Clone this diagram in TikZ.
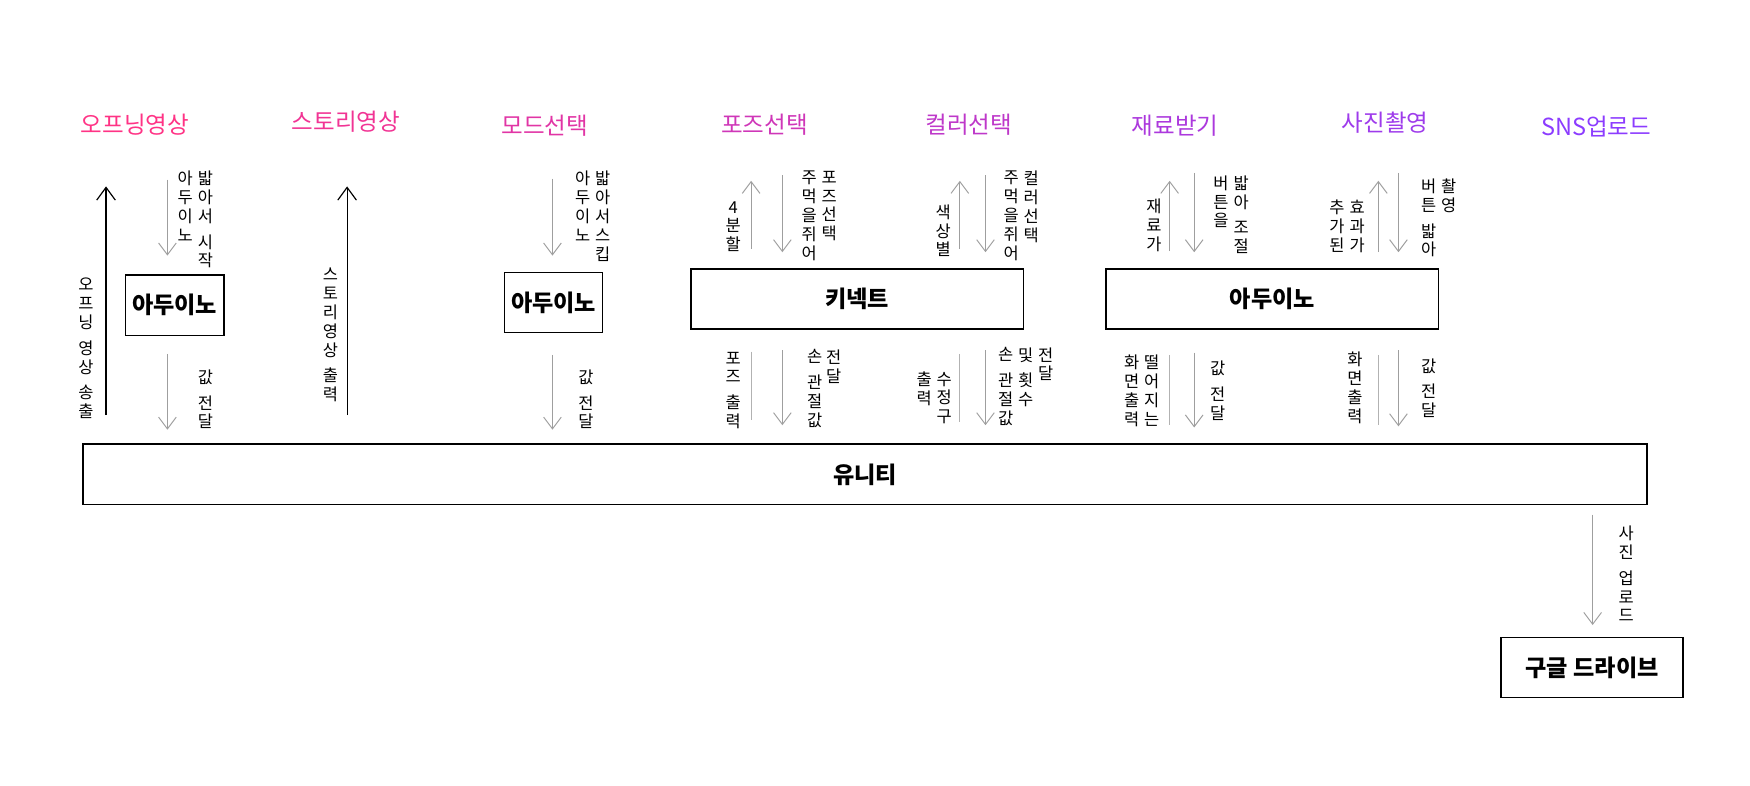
\documentclass[tikz,border=0pt]{standalone}
\usepackage{fontspec}
\usepackage{tikz}
\usetikzlibrary{arrows.meta}
\newfontfamily\kr{Noto Sans CJK KR}
\definecolor{openpink}{RGB}{255,51,133}
\definecolor{snspurple}{RGB}{140,60,255}

\tikzset{
  stage/.style={font=\kr\fontsize{12}{14}\selectfont, inner sep=0pt},
  device/.style={draw, line width=0.8pt, minimum height=1.08cm,
    font=\kr\bfseries\fontsize{11.8}{14}\selectfont},
  memo/.style={font=\kr\fontsize{8.4}{9.6}\selectfont, align=center,
    inner sep=0pt, anchor=north},
  sig/.style={draw=gray!75, line width=0.5pt,
    -{Straight Barb[length=6pt,width=9pt]}},
  feed/.style={draw=black, line width=0.6pt,
    -{Straight Barb[length=6.5pt,width=9.5pt]}},
  tie/.style={draw=gray!60, line width=0.5pt}
}

\begin{document}
\begin{tikzpicture}[x=0.02cm, y=-0.02cm]
  \useasboundingbox (0,0) rectangle (1568,704);

  % stages
  \node[stage, text=openpink] (s1) at (121,112) {오프닝영상};
  \node[stage, text=openpink!88!snspurple] (s2) at (310,109) {스토리영상};
  \node[stage, text=openpink!74!snspurple] (s3) at (488,113) {모드선택};
  \node[stage, text=openpink!58!snspurple] (s4) at (685,112) {포즈선택};
  \node[stage, text=openpink!44!snspurple] (s5) at (868,112) {컬러선택};
  \node[stage, text=openpink!28!snspurple] (s6) at (1053,113) {재료받기};
  \node[stage, text=openpink!16!snspurple] (s7) at (1241,110) {사진촬영};
  \node[stage, text=snspurple] (s8) at (1430,113) {SNS업로드};

  % devices
  \node[device, minimum width=1.7cm] (ard1) at (156.5,273.5) {아두이노};
  \node[device, minimum width=1.72cm] (ard2) at (496,271) {아두이노};
  \node[device, minimum width=5.96cm] (kin) at (768,268) {키넥트};
  \node[device, minimum width=5.96cm] (ard3) at (1140,268) {아두이노};
  \node[device, minimum width=28.04cm] (unity) at (775,425) {유니티};
  \node[device, minimum width=3.26cm] (drive) at (1426.5,598) {구글 드라이브};

  % opening
  \coordinate (op0) at (95,372);   \coordinate (op1) at (95,167);
  \coordinate (st0) at (150,161);  \coordinate (st1) at (150,229);
  \coordinate (v10) at (150,317);  \coordinate (v11) at (150,385);
  \draw[feed] (op0) -- (op1);
  \draw[sig] (st0) -- (st1);
  \draw[sig] (v10) -- (v11);
  \node[memo] (m1a) at (77,249) {오\\프\\닝\\[3.5pt]영\\상\\[3.5pt]송\\출};
  \node[memo] (m1b) at (166,153) {아\\두\\이\\노};
  \node[memo] (m1c) at (184,153) {밟\\아\\서\\[3.5pt]시\\작};
  \node[memo] (m1d) at (184,331) {값\\[3.5pt]전\\달};

  % story
  \coordinate (sy0) at (311,372);  \coordinate (sy1) at (311,167);
  \draw[feed] (sy0) -- (sy1);
  \node[memo] (m2a) at (296,240) {스\\토\\리\\영\\상\\[3.5pt]출\\력};

  % mode
  \coordinate (sk0) at (495,160);  \coordinate (sk1) at (495,229);
  \coordinate (v30) at (495,318);  \coordinate (v31) at (495,385);
  \draw[sig] (sk0) -- (sk1);
  \draw[sig] (v30) -- (v31);
  \node[memo] (m3a) at (522,153) {아\\두\\이\\노};
  \node[memo] (m3b) at (540,153) {밟\\아\\서\\스\\킵};
  \node[memo] (m3c) at (525,331) {값\\[3.5pt]전\\달};

  % pose
  \coordinate (pq0) at (673,223);  \coordinate (pq1) at (673,162);
  \coordinate (pf0) at (701,157);  \coordinate (pf1) at (701,226);
  \coordinate (po0) at (673,315);  \coordinate (po1) at (673,376);
  \coordinate (pj0) at (701,314);  \coordinate (pj1) at (701,381);
  \draw[sig] (pq0) -- (pq1);
  \draw[sig] (pf0) -- (pf1);
  \draw[tie] (po0) -- (po1);
  \draw[sig] (pj0) -- (pj1);
  \node[memo] (m4a) at (657,180) {4\\분\\할};
  \node[memo] (m4b) at (725,153) {주\\먹\\을\\쥐\\어};
  \node[memo] (m4c) at (743,153) {포\\즈\\선\\택};
  \node[memo] (m4d) at (657,315) {포\\즈\\[3.5pt]출\\력};
  \node[memo] (m4e) at (730,313) {손\\[3.5pt]관\\절\\값};
  \node[memo] (m4f) at (747,313) {전\\달};

  % colour
  \coordinate (cq0) at (860,223);  \coordinate (cq1) at (860,162);
  \coordinate (cf0) at (883,157);  \coordinate (cf1) at (883,226);
  \coordinate (co0) at (860,317);  \coordinate (co1) at (860,378);
  \coordinate (cj0) at (883,314);  \coordinate (cj1) at (883,381);
  \draw[sig] (cq0) -- (cq1);
  \draw[sig] (cf0) -- (cf1);
  \draw[tie] (co0) -- (co1);
  \draw[sig] (cj0) -- (cj1);
  \node[memo] (m5a) at (845,183) {색\\상\\별};
  \node[memo] (m5b) at (906,153) {주\\먹\\을\\쥐\\어};
  \node[memo] (m5c) at (924,153) {컬\\러\\선\\택};
  \node[memo] (m5d) at (828,333) {출\\력};
  \node[memo] (m5e) at (846,333) {수\\정\\구};
  \node[memo] (m5f) at (901,311) {손\\[3.5pt]관\\절\\값};
  \node[memo] (m5g) at (919,311) {및\\[3.5pt]횟\\수};
  \node[memo] (m5h) at (937,311) {전\\달};

  % material
  \coordinate (mq0) at (1048,225); \coordinate (mq1) at (1048,162);
  \coordinate (mf0) at (1070,155); \coordinate (mf1) at (1070,226);
  \coordinate (mo0) at (1048,318); \coordinate (mo1) at (1048,381);
  \coordinate (mj0) at (1070,316); \coordinate (mj1) at (1070,383);
  \draw[sig] (mq0) -- (mq1);
  \draw[sig] (mf0) -- (mf1);
  \draw[tie] (mo0) -- (mo1);
  \draw[sig] (mj0) -- (mj1);
  \node[memo] (m6a) at (1034,178) {재\\료\\가};
  \node[memo] (m6b) at (1094,157) {버\\튼\\을};
  \node[memo] (m6c) at (1112,157) {밟\\아\\[3.5pt]조\\절};
  \node[memo] (m6d) at (1014,318) {화\\면\\출\\력};
  \node[memo] (m6e) at (1032,318) {떨\\어\\지\\는};
  \node[memo] (m6f) at (1091,323) {값\\[3.5pt]전\\달};

  % photo
  \coordinate (fq0) at (1235,226); \coordinate (fq1) at (1235,162);
  \coordinate (ff0) at (1253,155); \coordinate (ff1) at (1253,226);
  \coordinate (fo0) at (1235,318); \coordinate (fo1) at (1235,381);
  \coordinate (fj0) at (1253,314); \coordinate (fj1) at (1253,382);
  \draw[sig] (fq0) -- (fq1);
  \draw[sig] (ff0) -- (ff1);
  \draw[tie] (fo0) -- (fo1);
  \draw[sig] (fj0) -- (fj1);
  \node[memo] (m7a) at (1198,179) {추\\가\\된};
  \node[memo] (m7b) at (1216,179) {효\\과\\가};
  \node[memo] (m7c) at (1280,160) {버\\튼\\[3.5pt]밟\\아};
  \node[memo] (m7d) at (1298,160) {촬\\영};
  \node[memo] (m7e) at (1214,315) {화\\면\\출\\력};
  \node[memo] (m7f) at (1280,321) {값\\[3.5pt]전\\달};

  % upload
  \coordinate (up0) at (1427,461); \coordinate (up1) at (1427,560);
  \draw[sig] (up0) -- (up1);
  \node[memo] (m8a) at (1457,471) {사\\진\\[3.5pt]업\\로\\드};
\end{tikzpicture}
\end{document}
